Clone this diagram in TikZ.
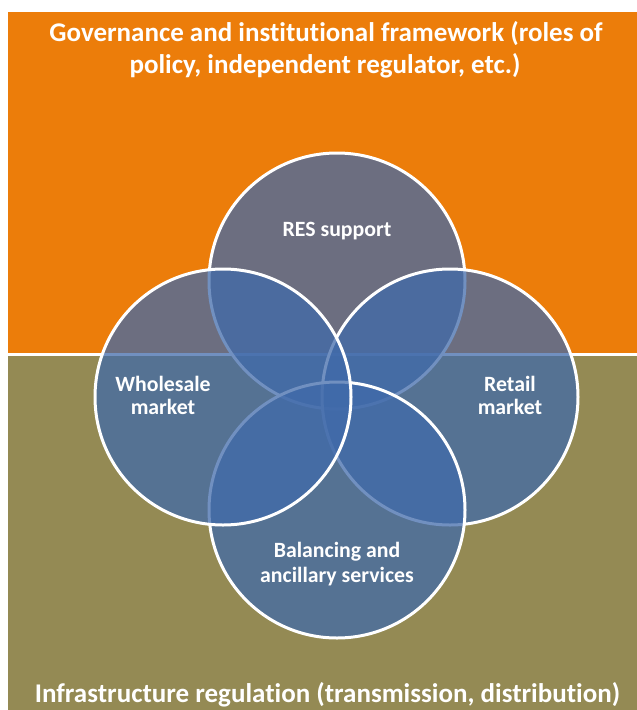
\documentclass[tikz,border=0pt]{standalone}
\usepackage{fontspec}
\setmainfont{Carlito}[Ligatures={NoCommon}]
\definecolor{orangebg}{RGB}{236,125,10}
\definecolor{olivebg}{RGB}{148,138,84}
\definecolor{circblue}{RGB}{64,106,170}
\begin{document}
\begin{tikzpicture}[x=1pt,y=-1pt,
  venn/.style={circle, minimum size=256pt, inner sep=0pt, fill=circblue, fill opacity=0.74, draw=white, draw opacity=1, line width=3pt},
  lbl/.style={text=white, font=\bfseries\fontsize{21.8}{26}\selectfont, anchor=base, inner sep=0pt},
  titletext/.style={text=white, font=\bfseries\fontsize{27}{32}\selectfont, anchor=base, inner sep=0pt}]
\useasboundingbox (0,0) rectangle (637,710);
\fill[white] (0,0) rectangle (637,710);
\fill[orangebg] (8,12) rectangle (637,352.5);
\fill[olivebg] (8,355.5) rectangle (637,710);

\node[venn] (res) at (337,281) {};
\node[venn] (retail) at (450,397) {};
\node[venn] (bal) at (337,510) {};
\node[venn] (whole) at (223,397) {};

\node[lbl] (resl) at (337,236) {RES support};
\node[lbl] (wh1) at (163,391) {Wholesale};
\node[lbl] (wh2) at (163,414) {market};
\node[lbl] (re1) at (510,391) {Retail};
\node[lbl] (re2) at (510,414) {market};
\node[lbl] (ba1) at (337,557) {Balancing and};
\node[lbl] (ba2) at (337,582) {ancillary services};

\node[titletext] (t1) at (326,41) {Governance and institutional framework (roles of};
\node[titletext] (t2) at (325,73) {policy, independent regulator, etc.)};
\node[titletext] (t3) at (327.5,702.5) {Infrastructure regulation (transmission, distribution)};
\end{tikzpicture}
\end{document}
